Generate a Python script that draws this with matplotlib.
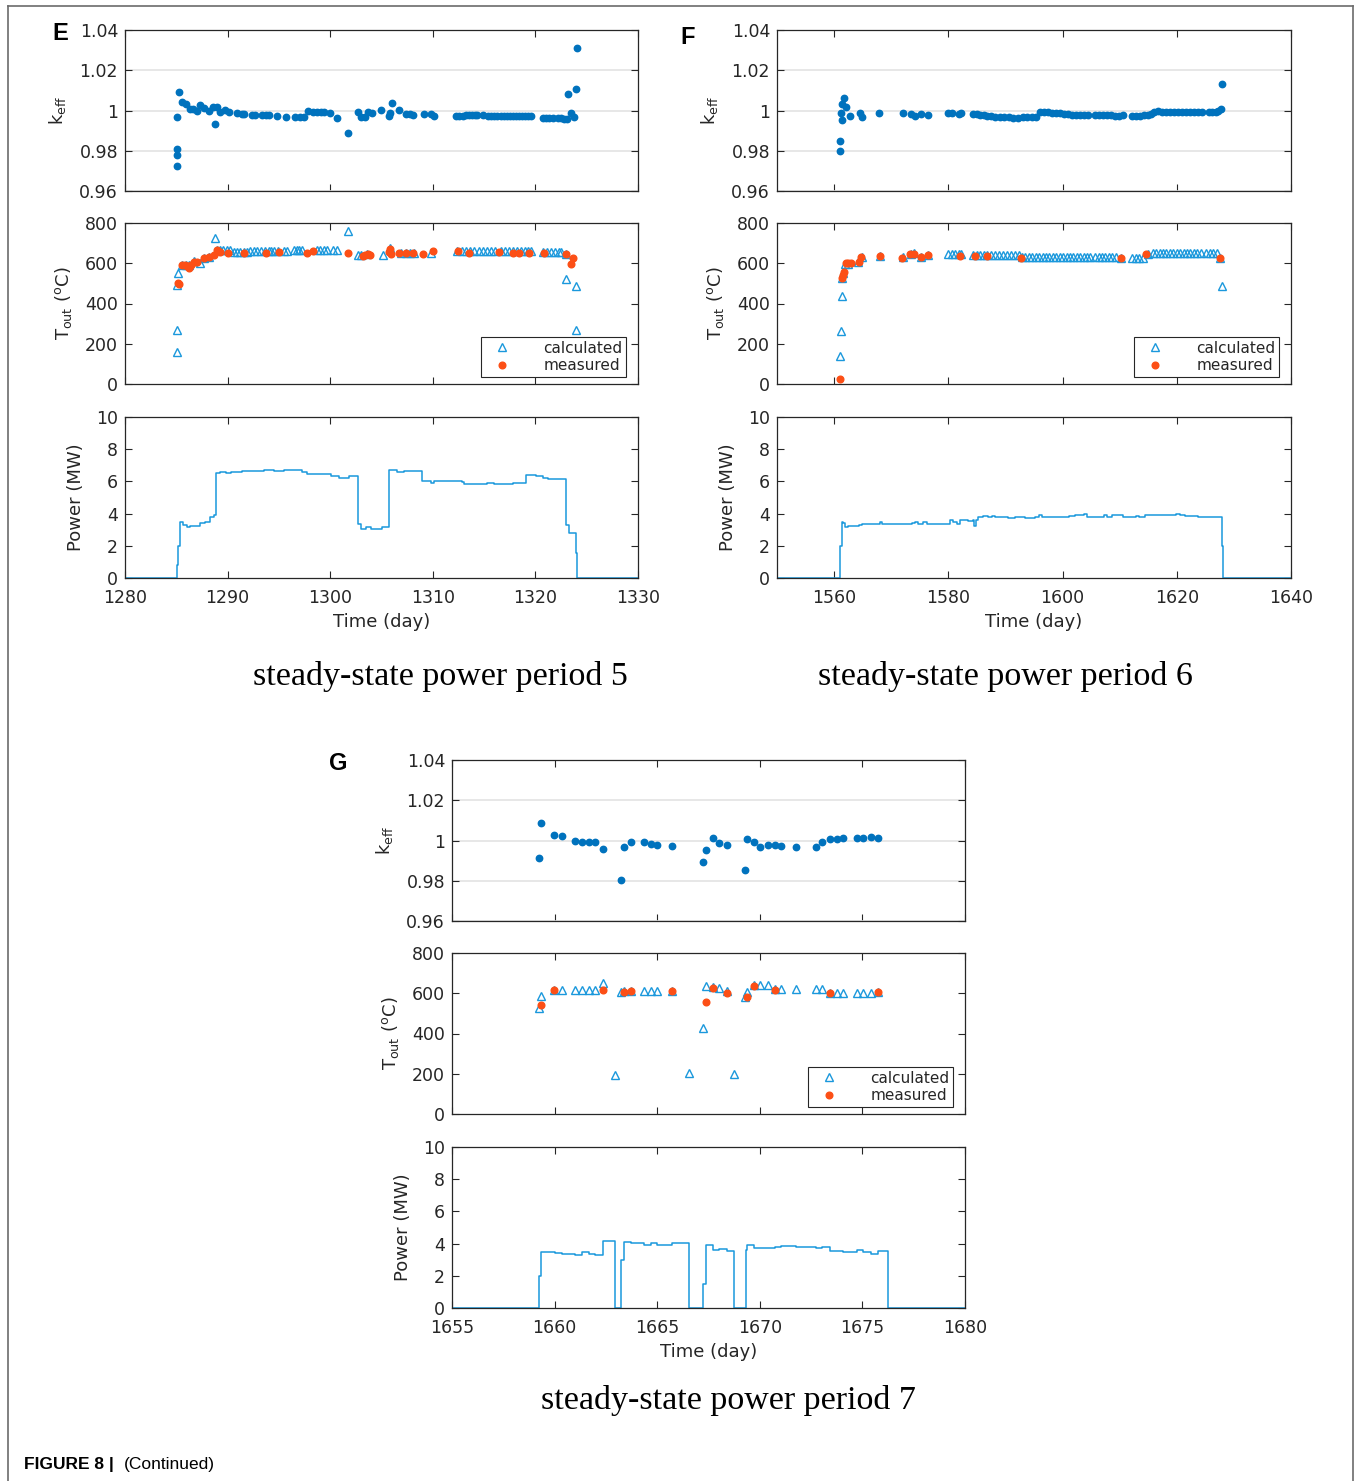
import matplotlib
matplotlib.use("Agg")
import matplotlib.pyplot as plt
from matplotlib.lines import Line2D
import numpy as np

# ---------------- DATA ----------------
# Period 5 (panel E)
e_keff_day = [1285.1, 1285.1, 1285.1, 1285.1, 1285.3, 1285.6, 1285.9, 1286.3, 1286.6, 1287.0,
              1287.3, 1287.7, 1288.2, 1288.6, 1288.8, 1289.0, 1289.3, 1289.7, 1290.1, 1290.9,
              1291.4, 1291.6, 1292.4, 1292.7, 1293.4, 1293.7, 1294.0, 1294.8, 1295.7, 1296.6,
              1297.1, 1297.4, 1297.8, 1298.3, 1298.7, 1299.1, 1299.4, 1300.0, 1300.7, 1301.7,
              1302.7, 1303.0, 1303.4, 1303.7, 1304.1, 1305.0, 1305.7, 1305.8, 1306.0, 1306.7,
              1307.4, 1307.8, 1308.1, 1309.1, 1309.8, 1310.1, 1312.3, 1312.6, 1312.9, 1313.2,
              1313.5, 1313.8, 1314.1, 1314.3, 1314.9, 1315.4, 1315.7, 1316.0, 1316.3, 1316.6,
              1316.9, 1317.2, 1317.5, 1317.8, 1318.1, 1318.4, 1318.7, 1319.0, 1319.3, 1319.6,
              1320.7, 1321.0, 1321.3, 1321.7, 1322.2, 1322.5, 1322.8, 1323.1, 1323.2, 1323.5,
              1323.8, 1324.0, 1324.1]
e_keff_val = [0.9722, 0.9778, 0.9808, 0.9970, 1.0092, 1.0040, 1.0030, 1.0007, 1.0007, 0.9998,
              1.0025, 1.0012, 1.0000, 1.0015, 0.9933, 1.0015, 0.9992, 1.0002, 0.9992, 0.9987,
              0.9982, 0.9982, 0.9980, 0.9980, 0.9978, 0.9978, 0.9978, 0.9973, 0.9968, 0.9968,
              0.9967, 0.9967, 0.9997, 0.9992, 0.9992, 0.9992, 0.9992, 0.9988, 0.9965, 0.9890,
              0.9992, 0.9970, 0.9970, 0.9995, 0.9987, 1.0003, 0.9975, 0.9990, 1.0037, 1.0002,
              0.9983, 0.9982, 0.9978, 0.9982, 0.9982, 0.9975, 0.9975, 0.9975, 0.9975, 0.9976,
              0.9976, 0.9977, 0.9977, 0.9977, 0.9977, 0.9975, 0.9975, 0.9975, 0.9974, 0.9974,
              0.9973, 0.9973, 0.9973, 0.9973, 0.9972, 0.9972, 0.9972, 0.9972, 0.9971, 0.9971,
              0.9962, 0.9962, 0.9962, 0.9962, 0.9961, 0.9961, 0.9960, 0.9958, 1.0083, 0.9987,
              0.9970, 1.0108, 1.0312]

e_calc_day = [1285.1, 1285.1, 1285.1, 1285.2, 1285.6, 1285.9, 1286.2, 1286.7, 1287.3, 1287.7,
              1288.2, 1288.8, 1289.0, 1289.3, 1289.6, 1289.9, 1290.2, 1290.6, 1290.9, 1291.2,
              1291.6, 1291.9, 1292.2, 1292.6, 1292.9, 1293.3, 1293.6, 1294.0, 1294.2, 1294.5,
              1294.9, 1295.5, 1295.8, 1296.5, 1296.8, 1297.0, 1297.3, 1298.7, 1299.0, 1299.4,
              1299.7, 1300.3, 1300.7, 1301.7, 1302.7, 1303.0, 1303.6, 1305.1, 1305.8, 1306.9,
              1307.4, 1307.8, 1308.2, 1309.8, 1312.4, 1312.8, 1313.2, 1313.6, 1314.0, 1314.5,
              1314.9, 1315.3, 1315.7, 1316.1, 1316.6, 1317.0, 1317.4, 1317.8, 1318.2, 1318.6,
              1319.0, 1319.3, 1319.6, 1320.7, 1321.1, 1321.5, 1321.9, 1322.3, 1322.5, 1323.0,
              1323.0, 1324.0, 1324.0]
e_calc_val = [157, 268, 490, 552, 592, 592, 592, 612, 600, 628,
              631, 724, 664, 664, 664, 664, 664, 656, 656, 656,
              656, 656, 661, 661, 661, 661, 661, 661, 661, 661,
              661, 661, 661, 666, 666, 666, 666, 666, 666, 666,
              666, 666, 666, 760, 640, 640, 645, 641, 678, 653,
              653, 653, 653, 650, 663, 663, 663, 663, 663, 663,
              663, 663, 663, 663, 663, 663, 663, 663, 663, 663,
              663, 663, 663, 656, 656, 656, 656, 656, 656, 645,
              520, 488, 268]

e_meas_day = [1285.2, 1285.3, 1285.6, 1285.8, 1286.0, 1286.2, 1286.4, 1286.7, 1287.0, 1287.7,
              1288.2, 1288.7, 1289.0, 1289.3, 1290.0, 1291.6, 1293.7, 1295.0, 1297.7, 1298.3,
              1301.7, 1303.2, 1303.4, 1303.7, 1303.9, 1305.7, 1305.8, 1305.9, 1306.7, 1307.4,
              1308.1, 1309.0, 1310.0, 1312.5, 1313.5, 1316.5, 1317.8, 1318.4, 1319.4, 1320.8,
              1323.0, 1323.5, 1323.7]
e_meas_val = [504, 496, 592, 592, 584, 578, 590, 607, 607, 628,
              631, 641, 664, 656, 650, 653, 653, 658, 651, 661,
              653, 638, 640, 645, 642, 658, 669, 648, 650, 650,
              653, 645, 661, 661, 653, 658, 653, 653, 653, 650,
              645, 595, 625]

e_pow_day = [1280.0, 1285.11, 1285.2, 1285.37, 1285.70, 1286.03, 1286.35, 1287.33, 1287.82, 1288.31,
             1288.70, 1288.83, 1289.3, 1289.8, 1290.3, 1291.07, 1291.4, 1292.5, 1293.5, 1294.5,
             1295.5, 1296.2, 1297.26, 1297.75, 1298.5, 1299.0, 1300.03, 1300.85, 1301.82, 1302.70,
             1303.03, 1303.45, 1303.94, 1305.08, 1305.73, 1306.55, 1307.2, 1307.8, 1308.3, 1308.99,
             1309.80, 1310.1, 1312.8, 1313.06, 1314.6, 1315.3, 1316.0, 1317.79, 1318.3, 1319.09,
             1320.07, 1320.72, 1321.21, 1321.86, 1323.0, 1323.32, 1323.91, 1324.07, 1330.0]
e_pow_val = [0.0, 0.82, 2.0, 3.5, 3.3, 3.15, 3.24, 3.4, 3.5, 3.77,
             3.9, 6.54, 6.6, 6.55, 6.6, 6.56, 6.66, 6.64, 6.68, 6.66,
             6.68, 6.7, 6.56, 6.45, 6.48, 6.44, 6.35, 6.23, 6.35, 3.34,
             3.03, 3.15, 3.03, 3.15, 6.68, 6.6, 6.64, 6.62, 6.66, 6.02,
             5.92, 6.0, 5.95, 5.84, 5.84, 5.88, 5.84, 5.88, 5.9, 6.37,
             6.33, 6.23, 6.16, 6.12, 3.3, 2.78, 1.55, 0.0, 0.0]

# Period 6 (panel F)
f_keff_day = [1561.05, 1561.1, 1561.3, 1561.2, 1561.4, 1561.7, 1562.0, 1562.8, 1564.5, 1564.8,
              1567.9, 1572.1, 1573.5, 1574.1, 1575.3, 1576.5, 1580.0, 1580.6, 1581.8, 1582.3,
              1584.4, 1585.0, 1585.6, 1586.2, 1586.8, 1587.5, 1588.2, 1589.0, 1589.8, 1590.6,
              1591.4, 1592.2, 1593.0, 1593.8, 1594.6, 1595.4, 1596.1, 1596.8, 1597.5, 1598.2,
              1598.9, 1599.6, 1600.3, 1601.0, 1601.7, 1602.4, 1603.1, 1603.8, 1604.5, 1605.7,
              1606.4, 1607.1, 1607.8, 1608.5, 1609.2, 1609.9, 1610.6, 1612.2, 1612.9, 1613.6,
              1614.3, 1615.0, 1615.5, 1616.0, 1616.7, 1617.4, 1618.1, 1618.8, 1619.5, 1620.2,
              1620.9, 1621.6, 1622.3, 1623.0, 1623.7, 1624.4, 1625.6, 1626.2, 1626.8, 1627.3,
              1627.7, 1627.9]
f_keff_val = [0.9798, 0.9848, 0.9953, 0.9990, 1.0032, 1.0062, 1.0017, 0.9975, 0.9990, 0.9968,
              0.9990, 0.9988, 0.9982, 0.9973, 0.9982, 0.9977, 0.9987, 0.9987, 0.9985, 0.9987,
              0.9985, 0.9983, 0.9980, 0.9978, 0.9975, 0.9972, 0.9970, 0.9968, 0.9967, 0.9966,
              0.9965, 0.9965, 0.9966, 0.9967, 0.9968, 0.9968, 0.9992, 0.9992, 0.9991, 0.9990,
              0.9989, 0.9987, 0.9985, 0.9982, 0.9980, 0.9979, 0.9978, 0.9978, 0.9978, 0.9977,
              0.9977, 0.9977, 0.9976, 0.9976, 0.9975, 0.9975, 0.9977, 0.9974, 0.9974, 0.9975,
              0.9978, 0.9980, 0.9983, 0.9995, 0.9996, 0.9995, 0.9995, 0.9994, 0.9994, 0.9993,
              0.9993, 0.9993, 0.9992, 0.9992, 0.9992, 0.9991, 0.9991, 0.9991, 0.9992, 0.9996,
              1.0008, 1.0133]

f_calc_day = [1561.1, 1561.2, 1561.3, 1561.3, 1561.6, 1561.9, 1562.5, 1564.2, 1564.8, 1568.0,
              1572.0, 1573.4, 1574.0, 1575.3, 1576.5, 1580.0, 1580.6, 1581.2, 1581.8, 1582.3,
              1584.4, 1585.0, 1585.6, 1586.2, 1586.8, 1587.5, 1588.2, 1588.9, 1589.6, 1590.3,
              1591.0, 1591.7, 1592.3, 1592.9, 1593.5, 1594.1, 1594.7, 1595.3, 1595.9, 1596.5,
              1597.1, 1597.7, 1598.3, 1598.9, 1599.5, 1600.1, 1600.7, 1601.3, 1601.9, 1602.5,
              1603.1, 1603.7, 1604.3, 1604.8, 1605.7, 1606.3, 1606.9, 1607.5, 1608.1, 1608.7,
              1609.3, 1610.3, 1612.2, 1612.8, 1613.4, 1614.1, 1615.0, 1615.8, 1616.4, 1617.0,
              1617.6, 1618.2, 1618.8, 1619.4, 1620.0, 1620.6, 1621.2, 1621.8, 1622.4, 1623.0,
              1623.6, 1624.2, 1625.2, 1625.8, 1626.4, 1627.0, 1627.5, 1627.9]
f_calc_val = [140, 261, 438, 529, 554, 598, 598, 607, 631, 636,
              631, 645, 653, 633, 640, 645, 645, 645, 645, 645,
              641, 641, 641, 641, 641, 641, 641, 641, 641, 641,
              641, 641, 641, 631, 631, 631, 631, 631, 631, 631,
              631, 631, 631, 631, 631, 631, 631, 631, 631, 631,
              631, 631, 631, 631, 631, 631, 631, 631, 631, 631,
              631, 625, 628, 628, 628, 628, 648, 650, 650, 650,
              650, 650, 650, 650, 650, 650, 650, 650, 650, 650,
              650, 650, 650, 650, 650, 650, 628, 488]

f_meas_day = [1561.1, 1561.3, 1561.6, 1561.75, 1562.0, 1562.5, 1562.9, 1564.4, 1564.7, 1568.1,
              1571.9, 1573.3, 1574.0, 1575.2, 1576.5, 1582.1, 1584.7, 1586.7, 1592.8, 1610.3,
              1614.6, 1627.6]
f_meas_val = [25, 529, 542, 559, 600, 600, 600, 607, 631, 636,
              628, 645, 648, 631, 640, 638, 635, 635, 628, 625,
              648, 628]

f_pow_day = [1550.0, 1560.99, 1561.35, 1561.6, 1561.9, 1562.4, 1564.3, 1564.9, 1567.8, 1568.1,
             1568.4, 1572.1, 1573.6, 1574.2, 1574.7, 1575.6, 1576.2, 1580.0, 1580.3, 1580.9,
             1581.6, 1582.0, 1583.5, 1584.3, 1584.5, 1584.9, 1585.2, 1586.1, 1587.0, 1587.6,
             1588.2, 1589.3, 1590.5, 1591.7, 1593.4, 1595.2, 1595.8, 1596.4, 1600.0, 1601.1,
             1602.2, 1603.7, 1604.3, 1606.9, 1607.2, 1607.8, 1608.7, 1610.5, 1612.8, 1613.4,
             1614.5, 1616.8, 1619.8, 1620.6, 1621.5, 1623.8, 1626.2, 1626.8, 1627.84, 1627.95,
             1628.07, 1640.0]
f_pow_val = [0.0, 1.96, 3.5, 3.4, 3.15, 3.2, 3.3, 3.36, 3.38, 3.5,
             3.36, 3.34, 3.4, 3.5, 3.34, 3.5, 3.34, 3.34, 3.6, 3.46,
             3.34, 3.6, 3.56, 3.6, 3.2, 3.6, 3.77, 3.85, 3.77, 3.85,
             3.77, 3.81, 3.73, 3.77, 3.73, 3.81, 3.9, 3.81, 3.81, 3.85,
             3.94, 3.98, 3.81, 3.81, 3.94, 3.81, 3.9, 3.81, 3.85, 3.81,
             3.9, 3.9, 3.98, 3.92, 3.85, 3.81, 3.77, 3.81, 3.77, 1.96,
             0.0, 0.0]

# Period 7 (panel G)
g_keff_day = [1659.23, 1659.36, 1659.97, 1660.34, 1660.98, 1661.35, 1661.69, 1661.99, 1662.38, 1663.26,
              1663.37, 1663.71, 1664.36, 1664.71, 1665.0, 1665.72, 1667.23, 1667.39, 1667.70, 1668.01,
              1668.39, 1669.28, 1669.40, 1669.72, 1670.02, 1670.39, 1670.73, 1671.03, 1671.74, 1672.72,
              1673.05, 1673.42, 1673.75, 1674.04, 1674.74, 1675.05, 1675.41, 1675.77]
g_keff_val = [0.9915, 1.0088, 1.0027, 1.0020, 0.9998, 0.9993, 0.9993, 0.9993, 0.9960, 0.9802,
              0.9967, 0.9992, 0.9992, 0.9982, 0.9980, 0.9975, 0.9895, 0.9953, 1.0013, 0.9988,
              0.9977, 0.9853, 1.0008, 0.9992, 0.9968, 0.9980, 0.9980, 0.9975, 0.9970, 0.9968,
              0.9992, 1.0007, 1.0007, 1.0010, 1.0012, 1.0013, 1.0015, 1.0010]

g_calc_day = [1659.23, 1659.36, 1659.97, 1660.34, 1660.98, 1661.35, 1661.69, 1661.99, 1662.38, 1662.92,
              1663.26, 1663.37, 1663.71, 1664.36, 1664.71, 1665.0, 1665.72, 1666.56, 1667.23, 1667.39,
              1667.70, 1668.01, 1668.39, 1668.73, 1669.28, 1669.40, 1669.72, 1670.02, 1670.39, 1670.73,
              1671.03, 1671.74, 1672.72, 1673.05, 1673.42, 1673.75, 1674.04, 1674.74, 1675.05, 1675.41,
              1675.77]
g_calc_val = [526, 587, 617, 617, 617, 617, 617, 617, 650, 195,
              608, 610, 610, 610, 610, 610, 610, 202, 426, 636,
              631, 628, 612, 198, 583, 607, 640, 640, 640, 623,
              623, 623, 623, 623, 603, 603, 603, 603, 603, 603,
              607]

g_meas_day = [1659.36, 1659.97, 1662.38, 1663.37, 1663.71, 1665.72, 1667.39, 1667.70, 1668.39, 1669.40,
              1669.72, 1670.73, 1673.42, 1675.77]
g_meas_val = [542, 617, 617, 607, 612, 613, 557, 626, 600, 583,
              636, 618, 602, 607]

g_pow_day = [1655.0, 1659.22, 1659.36, 1660.0, 1660.36, 1661.01, 1661.34, 1661.66, 1661.99, 1662.38,
             1662.92, 1663.24, 1663.37, 1663.70, 1664.35, 1664.71, 1665.0, 1665.72, 1666.56, 1667.25,
             1667.38, 1667.70, 1668.01, 1668.39, 1668.73, 1669.32, 1669.40, 1669.72, 1670.02, 1670.73,
             1671.03, 1671.74, 1672.72, 1673.05, 1673.42, 1674.04, 1674.74, 1675.05, 1675.41, 1675.77,
             1676.24, 1680.0]
g_pow_val = [0.0, 2.0, 3.48, 3.44, 3.36, 3.32, 3.46, 3.36, 3.32, 4.19,
             0.0, 3.0, 4.12, 4.02, 3.92, 4.02, 3.92, 4.02, 0.0, 1.5,
             3.9, 3.6, 3.65, 3.53, 0.0, 3.6, 3.9, 3.71, 3.75, 3.81,
             3.86, 3.81, 3.73, 3.81, 3.53, 3.48, 3.6, 3.48, 3.38, 3.53,
             0.0, 0.0]

keff_ticks = [0.96, 0.98, 1.0, 1.02, 1.04]
keff_ticklabels = ["0.96", "0.98", "1", "1.02", "1.04"]
tout_ticks = [0, 200, 400, 600, 800]
pow_ticks = [0, 2, 4, 6, 8, 10]

panels = [
    dict(label="E", xlim=(1280, 1330), xticks=[1280, 1290, 1300, 1310, 1320, 1330],
         x0=125, x1=638, ys=[(30, 191), (223, 384), (417, 578)],
         keff=(e_keff_day, e_keff_val), calc=(e_calc_day, e_calc_val), meas=(e_meas_day, e_meas_val),
         pow=(e_pow_day, e_pow_val), caption="steady-state power period 5", cap_xy=(440, 676),
         lab_xy=(60, 33)),
    dict(label="F", xlim=(1550, 1640), xticks=[1560, 1580, 1600, 1620, 1640],
         x0=777, x1=1291, ys=[(30, 191), (223, 384), (417, 578)],
         keff=(f_keff_day, f_keff_val), calc=(f_calc_day, f_calc_val), meas=(f_meas_day, f_meas_val),
         pow=(f_pow_day, f_pow_val), caption="steady-state power period 6", cap_xy=(1005, 676),
         lab_xy=(688, 38)),
    dict(label="G", xlim=(1655, 1680), xticks=[1655, 1660, 1665, 1670, 1675, 1680],
         x0=452, x1=965, ys=[(760, 921), (953, 1114), (1147, 1308)],
         keff=(g_keff_day, g_keff_val), calc=(g_calc_day, g_calc_val), meas=(g_meas_day, g_meas_val),
         pow=(g_pow_day, g_pow_val), caption="steady-state power period 7", cap_xy=(728, 1400),
         lab_xy=(338, 764)),
]

# ---------------- STYLE ----------------
W, H = 1356, 1481
plt.rcParams['font.family'] = ['DejaVu Sans']
plt.rcParams['mathtext.fontset'] = 'dejavusans'
AX_COL = '#262626'
KEFF_COL = '#0072BD'
CALC_COL = '#1a98dc'
MEAS_COL = '#fc4f16'
POW_COL = '#1a98dc'
TICK_FS = 12.5
LAB_FS = 13

fig = plt.figure(figsize=(W / 100, H / 100), dpi=100)
fig.patch.set_facecolor('white')


def add_ax(x0, x1, y0, y1):
    return fig.add_axes([x0 / W, 1 - y1 / H, (x1 - x0) / W, (y1 - y0) / H])


def style(ax, xlim, xticks, show_xlabels):
    ax.set_xlim(*xlim)
    ax.set_xticks(xticks)
    ax.tick_params(direction='in', length=5, width=0.8, top=True, right=True,
                   colors=AX_COL, labelsize=TICK_FS, labelcolor=AX_COL, pad=5)
    ax.tick_params(axis='x', pad=8)
    if not show_xlabels:
        ax.set_xticklabels([])
    for s in ax.spines.values():
        s.set_color(AX_COL)
        s.set_linewidth(0.9)


for p in panels:
    (k0, k1), (t0, t1), (q0, q1) = p['ys']
    # keff
    ax = add_ax(p['x0'], p['x1'], k0, k1)
    ax.plot(p['keff'][0], p['keff'][1], 'o', color=KEFF_COL, ms=4.6, mec=KEFF_COL, zorder=3)
    ax.set_ylim(0.96, 1.04)
    ax.set_yticks(keff_ticks)
    ax.set_yticklabels(keff_ticklabels)
    ax.yaxis.grid(True, color='#e3e3e3', lw=1.2, zorder=0)
    ax.set_axisbelow(True)
    style(ax, p['xlim'], p['xticks'], False)
    ax.set_ylabel(r'k$_{\rm eff}$', fontsize=LAB_FS, color=AX_COL, labelpad=8)

    # Tout
    ax = add_ax(p['x0'], p['x1'], t0, t1)
    ax.plot(p['calc'][0], p['calc'][1], '^', ls='none', mfc='none', mec=CALC_COL, ms=5.2,
            mew=1.0, label='calculated', zorder=3)
    ax.plot(p['meas'][0], p['meas'][1], 'o', ls='none', color=MEAS_COL, ms=4.8,
            label='measured', zorder=4)
    ax.set_ylim(0, 800)
    ax.set_yticks(tout_ticks)
    style(ax, p['xlim'], p['xticks'], False)
    ax.set_ylabel(r'T$_{\rm out}$ ($^{\rm o}$C)', fontsize=LAB_FS, color=AX_COL, labelpad=8)
    leg = ax.legend(loc='lower right', bbox_to_anchor=(0.977, 0.045), fontsize=11,
                    frameon=True, fancybox=False, edgecolor=AX_COL, framealpha=1,
                    handlelength=2.2, handletextpad=1.6, borderpad=0.25, labelspacing=0.15,
                    borderaxespad=0.0)
    leg.get_frame().set_linewidth(0.8)
    for t in leg.get_texts():
        t.set_color(AX_COL)

    # Power
    ax = add_ax(p['x0'], p['x1'], q0, q1)
    ax.plot(p['pow'][0], p['pow'][1], drawstyle='steps-post', color=POW_COL, lw=1.1)
    ax.set_ylim(0, 10)
    ax.set_yticks(pow_ticks)
    style(ax, p['xlim'], p['xticks'], True)
    ax.set_ylabel('Power (MW)', fontsize=LAB_FS, color=AX_COL, labelpad=8)
    ax.set_xlabel('Time (day)', fontsize=LAB_FS, color=AX_COL, labelpad=4)

    # caption and panel label
    fig.text(p['cap_xy'][0] / W, 1 - p['cap_xy'][1] / H, p['caption'],
             family='Liberation Serif', fontsize=24.5, ha='center', va='center', color='black')
    fig.text(p['lab_xy'][0] / W, 1 - p['lab_xy'][1] / H, p['label'],
             family='Liberation Sans', fontweight='bold', fontsize=17, ha='center', va='center')

# footer
fig.text(24 / W, 1 - 1464 / H, 'FIGURE 8 |', family='Liberation Sans', fontweight='bold',
         fontsize=12.5, ha='left', va='center')
fig.text(124 / W, 1 - 1464 / H, '(Continued)', family='Liberation Sans',
         fontsize=12.5, ha='left', va='center')

# frame lines
fc = '#6b6b6b'
fig.add_artist(Line2D([8 / W, 8 / W], [0, 1 - 6 / H], transform=fig.transFigure, color=fc, lw=1.2))
fig.add_artist(Line2D([1353 / W, 1353 / W], [0, 1 - 6 / H], transform=fig.transFigure, color=fc, lw=1.2))
fig.add_artist(Line2D([8 / W, 1353 / W], [1 - 6 / H, 1 - 6 / H], transform=fig.transFigure, color=fc, lw=1.2))

fig.savefig('out.png', dpi=100)
